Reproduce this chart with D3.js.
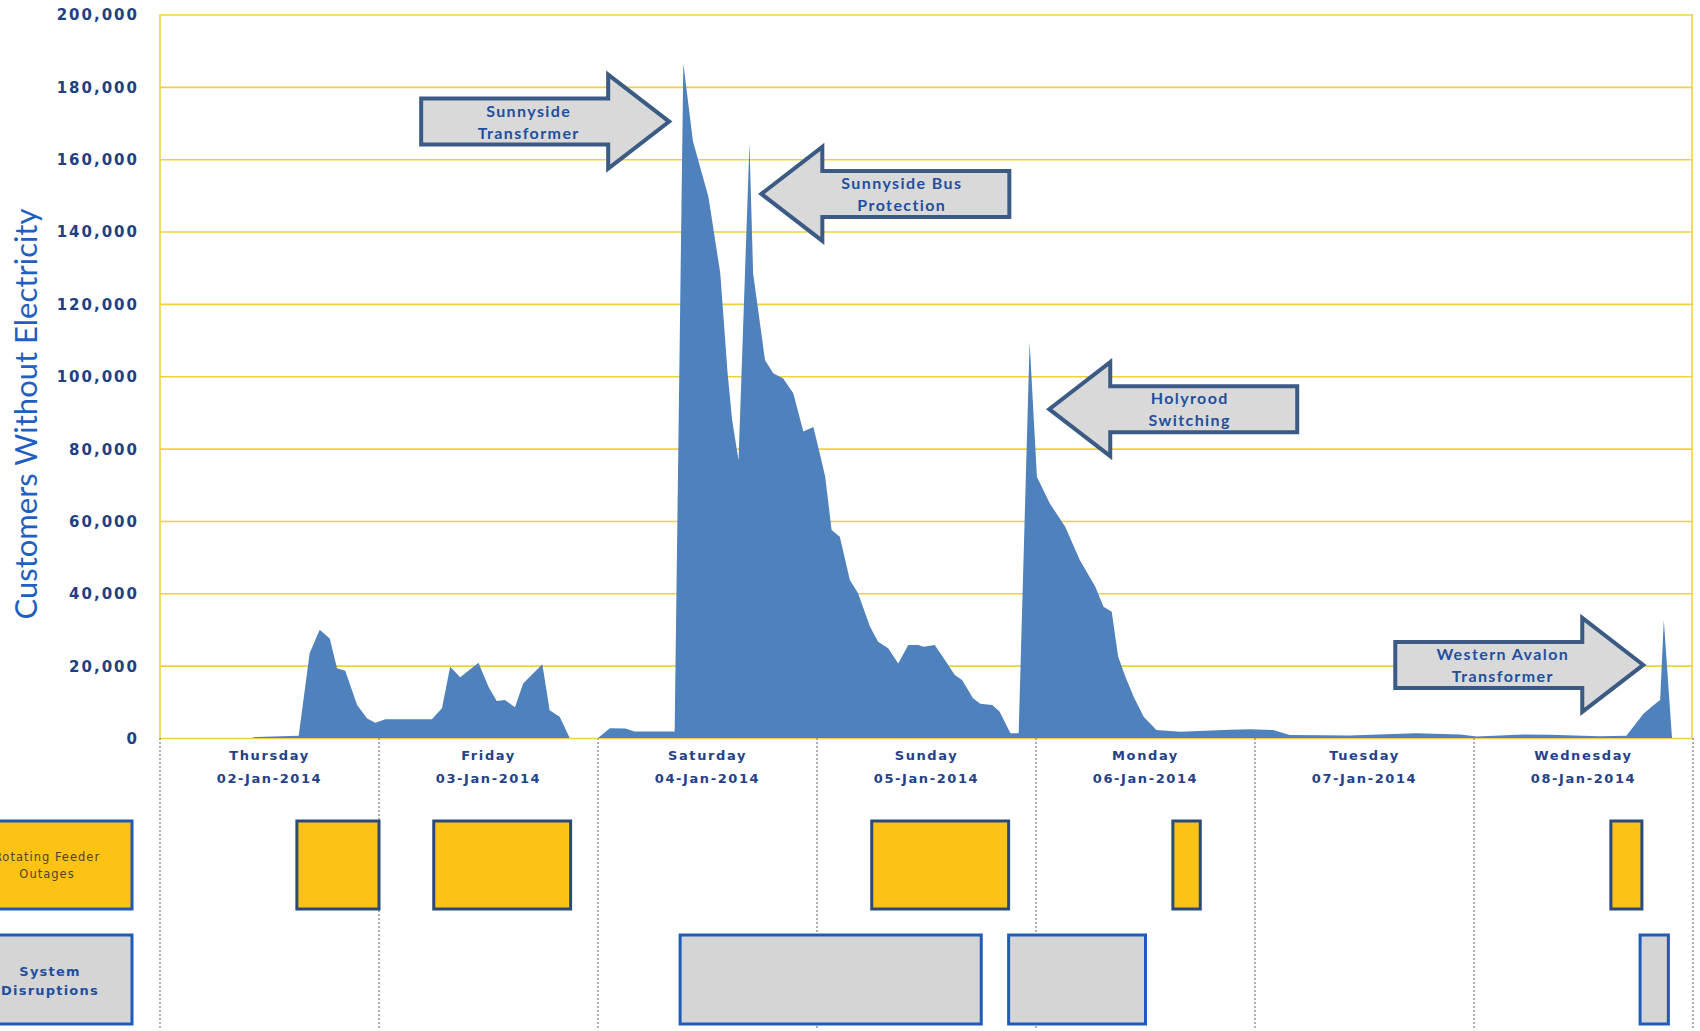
<!DOCTYPE html>
<html>
<head>
<meta charset="utf-8">
<script src="https://cdn.jsdelivr.net/npm/d3@7"></script>
<style>
    body { margin: 0; background: #fff; }
    svg { display: block; }
</style>
</head>
<body>
<div id="outage-chart"></div>
<script>

// hours counted from 00:00 Thursday 02-Jan-2014
const hours = [0, 10, 10.5, 15.2, 16.4, 17.5, 18.6, 19.4, 20.3, 21.6, 22.7, 23.6, 24.7, 29.8, 30.9, 31.8, 32.9, 34.9, 36.0, 36.9,
    37.8, 38.9, 39.8, 41.9, 42.7, 43.8, 44.9, 48.0, 49.3, 51.0, 52.0, 56.4, 57.35, 58.4, 60.1, 61.4, 62.2, 62.7, 63.4, 64.6,
    65.0, 66.3, 67.2, 68.3, 69.4, 70.5, 71.6, 72.3, 72.9, 73.6, 74.5, 75.6, 76.5, 77.8, 78.7, 79.8, 80.9, 82.0, 83.1, 83.7,
    84.9, 86.0, 87.1, 87.9, 89.1, 89.9, 91.2, 92.0, 93.2, 94.1, 95.3, 96.1, 97.5, 99.2, 100.8, 102.5, 103.4, 104.3, 105.0, 105.8,
    106.7, 107.8, 109.2, 111.8, 117.3, 119.5, 122.0, 123.8, 130.4, 137.6, 139.5, 142.5, 144.3, 149.4, 152.3, 157.8, 160.7, 162.6, 163.7, 164.4,
    164.8, 165.7, 168];

// customers without electricity at each of those hours
const customers = [0, 0, 300, 600, 23400, 29900, 27500, 19300, 18600, 9100, 5400, 4200, 5200, 5200, 8200, 19700, 16800, 20800, 14200, 10200,
    10500, 8500, 15100, 20400, 7700, 5900, 0, 0, 2700, 2600, 1800, 1800, 186500, 165000, 149600, 128500, 100900, 87900, 76800, 164400,
    128400, 104500, 100800, 99400, 95300, 84700, 86000, 78700, 72200, 57500, 55600, 43700, 40000, 30800, 26600, 24800, 20600, 25700, 25700, 25200,
    25700, 21600, 17400, 16000, 11000, 9500, 9100, 7300, 1300, 1300, 109500, 72200, 64900, 58400, 49200, 41800, 36300, 34900, 22500, 16900,
    11400, 5900, 2200, 1700, 2300, 2400, 2200, 800, 700, 1300, 1200, 1000, 400, 1000, 900, 500, 600, 6800, 9100, 10500,
    32600, 0, 0];

const yTicks = [0, 20000, 40000, 60000, 80000, 100000, 120000, 140000, 160000, 180000, 200000];

const dayNames = ["Thursday", "Friday", "Saturday", "Sunday", "Monday", "Tuesday", "Wednesday"];
const dayDates = ["02-Jan-2014", "03-Jan-2014", "04-Jan-2014", "05-Jan-2014", "06-Jan-2014", "07-Jan-2014", "08-Jan-2014"];

// [start hour, end hour]
const feederOutages = [[15, 24], [30, 45], [78, 93], [111, 114], [159, 162.4]];
const systemDisruptions = [[57, 90], [93, 108], [162.2, 165.3]];

// callouts: arrow tip sits at (hour, customers), dir 1 points right, -1 points left
const calloutLabels = [["Sunnyside", "Transformer"], ["Sunnyside Bus", "Protection"], ["Holyrood", "Switching"], ["Western Avalon", "Transformer"]];
const calloutHours = [55.8, 65.9, 97.45, 162.55];
const calloutValues = [170400, 150400, 90900, 20200];
const calloutDirs = [1, -1, -1, 1];


class OutageChart {

    constructor(parentElement) {
        this.parentElement = parentElement;
        this.initVis();
    }

    /*
     * Static content: svg, scales, grid, day labels
     */
    initVis() {
        let vis = this;

        vis.width = 1700;
        vis.height = 1031;
        vis.plot = {left: 160, right: 1693, top: 14.5, bottom: 738};

        vis.svg = d3.select("#" + vis.parentElement).append("svg")
            .attr("width", vis.width)
            .attr("height", vis.height);

        vis.x = d3.scaleLinear().domain([0, 168]).range([vis.plot.left, vis.plot.right]);
        vis.y = d3.scaleLinear().domain([0, 200000]).range([vis.plot.bottom, vis.plot.top]);

        // yellow gridlines
        vis.svg.append("g")
            .attr("class", "grid")
            .attr("transform", `translate(${vis.plot.left},0)`)
            .call(d3.axisLeft(vis.y).tickValues(yTicks).tickSize(-(vis.plot.right - vis.plot.left)).tickFormat(""))
            .call(g => g.select(".domain").remove())
            .call(g => g.selectAll("line").attr("stroke", "#eed23c").attr("stroke-width", 1.6));

        // left / right frame
        vis.svg.selectAll(".frame")
            .data([vis.plot.left, vis.plot.right - 1])
            .join("line")
            .attr("class", "frame")
            .attr("x1", d => d).attr("x2", d => d)
            .attr("y1", vis.plot.top).attr("y2", vis.plot.bottom)
            .attr("stroke", "#eed23c")
            .attr("stroke-width", 1.6);

        // tick labels
        vis.svg.append("g")
            .attr("transform", "translate(139,0)")
            .call(d3.axisLeft(vis.y).tickValues(yTicks).tickSize(0).tickPadding(0).tickFormat(d3.format(",")))
            .call(g => g.select(".domain").remove())
            .call(g => g.selectAll("text")
                .attr("dy", "0.36em")
                .attr("fill", "#21407f")
                .style("font-family", "'DejaVu Sans', Verdana, sans-serif")
                .style("font-weight", "bold")
                .style("font-size", "15px")
                .style("letter-spacing", "2px"));

        // axis title
        vis.svg.append("text")
            .attr("transform", "translate(37,414) rotate(-90)")
            .attr("text-anchor", "middle")
            .attr("fill", "#1f5fbf")
            .style("font-family", "Lato, 'Open Sans', sans-serif")
            .style("font-size", "31px")
            .text("Customers Without Electricity");

        // dotted day separators below the plot
        vis.svg.selectAll(".day-sep")
            .data(d3.range(8))
            .join("line")
            .attr("class", "day-sep")
            .attr("x1", d => vis.x(d * 24)).attr("x2", d => vis.x(d * 24))
            .attr("y1", vis.plot.bottom).attr("y2", 1029)
            .attr("stroke", "#9c9c9c")
            .attr("stroke-width", 1.6)
            .attr("stroke-dasharray", "2,2");

        // day names + dates
        let dayLabels = vis.svg.selectAll(".day-label")
            .data(dayNames)
            .join("g")
            .attr("class", "day-label")
            .attr("transform", (d, i) => `translate(${vis.x(i * 24 + 12)},0)`)
            .attr("fill", "#23428a")
            .style("font-family", "'DejaVu Sans', Verdana, sans-serif")
            .style("font-weight", "bold")
            .style("font-size", "13px")
            .style("letter-spacing", "1.6px")
            .attr("text-anchor", "middle");

        dayLabels.append("text").attr("y", 760).text(d => d);
        dayLabels.append("text").attr("y", 783).text((d, i) => dayDates[i]);

        this.wrangleData();
    }

    /*
     * Zip the series arrays into point objects
     */
    wrangleData() {
        let vis = this;

        vis.points = hours.map((h, i) => ({h: h, v: customers[i]}));
        vis.callouts = calloutLabels.map((lines, i) => ({
            lines: lines, h: calloutHours[i], v: calloutValues[i], dir: calloutDirs[i]
        }));

        this.updateVis();
    }

    /*
     * Area, timeline rows and callout arrows
     */
    updateVis() {
        let vis = this;

        let area = d3.area()
            .x(d => vis.x(d.h))
            .y0(vis.y(0))
            .y1(d => vis.y(d.v));

        vis.svg.append("path")
            .datum(vis.points)
            .attr("fill", "#4f81bd")
            .attr("d", area);

        // timeline rows under the chart
        const rows = [
            {spans: feederOutages, top: 821, bottom: 909, fill: "#fdc314", stroke: "#2c4a78",
                label: ["Rotating Feeder", "Outages"], labelStroke: "#2358b0"},
            {spans: systemDisruptions, top: 935, bottom: 1024, fill: "#d5d5d5", stroke: "#1f5bbd",
                label: ["System", "Disruptions"], labelStroke: "#1f5bbd"}
        ];

        rows.forEach((row, r) => {
            let g = vis.svg.append("g").attr("class", "row-" + r);

            g.append("rect")
                .attr("x", -33).attr("y", row.top)
                .attr("width", 165).attr("height", row.bottom - row.top)
                .attr("fill", row.fill)
                .attr("stroke", row.labelStroke)
                .attr("stroke-width", 3);

            g.selectAll(".span")
                .data(row.spans)
                .join("rect")
                .attr("class", "span")
                .attr("x", d => vis.x(d[0]))
                .attr("y", row.top)
                .attr("width", d => vis.x(d[1]) - vis.x(d[0]))
                .attr("height", row.bottom - row.top)
                .attr("fill", row.fill)
                .attr("stroke", row.stroke)
                .attr("stroke-width", 3);
        });

        // row labels (the left box runs off the page, like the original)
        let mid1 = (821 + 909) / 2, mid2 = (935 + 1024) / 2;
        vis.svg.append("g")
            .attr("text-anchor", "middle")
            .attr("fill", "#4a4632")
            .style("font-family", "'DejaVu Sans', Verdana, sans-serif")
            .style("font-size", "11.5px")
            .style("letter-spacing", "1px")
            .selectAll("text")
            .data(rows[0].label)
            .join("text")
            .attr("x", 47)
            .attr("y", (d, i) => mid1 - 4 + i * 17)
            .text(d => d);

        vis.svg.append("g")
            .attr("text-anchor", "middle")
            .attr("fill", "#1f4f9e")
            .style("font-family", "'DejaVu Sans', Verdana, sans-serif")
            .style("font-weight", "bold")
            .style("font-size", "13px")
            .style("letter-spacing", "1.2px")
            .selectAll("text")
            .data(rows[1].label)
            .join("text")
            .attr("x", 50)
            .attr("y", (d, i) => mid2 - 4 + i * 19)
            .text(d => d);

        // callout block arrows
        const L = 248, HL = 61, HH = 47, BH = 23;
        let arrows = vis.svg.selectAll(".callout")
            .data(vis.callouts)
            .join("g")
            .attr("class", "callout")
            .attr("transform", d => `translate(${vis.x(d.h)},${vis.y(d.v)})`);

        arrows.append("path")
            .attr("d", d => {
                let s = d.dir;
                let pts = [[-L, -BH], [-HL, -BH], [-HL, -HH], [0, 0], [-HL, HH], [-HL, BH], [-L, BH]];
                return "M" + pts.map(p => [p[0] * s, p[1]].join(",")).join("L") + "Z";
            })
            .attr("fill", "#d9d9d9")
            .attr("stroke", "#3b5b85")
            .attr("stroke-width", 4)
            .attr("stroke-linejoin", "miter");

        arrows.append("text")
            .attr("text-anchor", "middle")
            .attr("fill", "#1f4f9e")
            .style("font-family", "Lato, 'Open Sans', sans-serif")
            .style("font-weight", "bold")
            .style("font-size", "16px")
            .style("letter-spacing", "1.4px")
            .selectAll("tspan")
            .data(d => d.lines.map((t, i) => ({t: t, i: i, dir: d.dir})))
            .join("tspan")
            .attr("x", d => -d.dir * ((L + HL) / 2 - 14))
            .attr("y", d => d.i === 0 ? -5 : 17)
            .text(d => d.t);
    }
}

new OutageChart("outage-chart");

</script>
</body>
</html>
